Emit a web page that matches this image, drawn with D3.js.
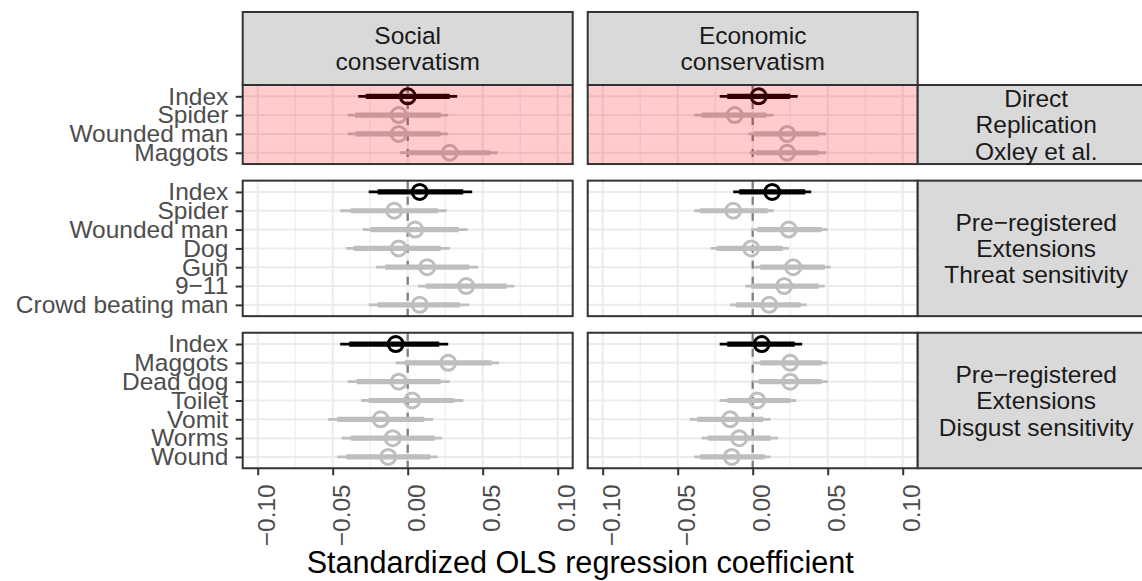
<!DOCTYPE html>
<html>
<head>
<meta charset="utf-8">
<script src="https://cdn.jsdelivr.net/npm/d3@7"></script>
<style>
  body { margin: 0; background: #fff; }
  text { font-family: 'Liberation Sans', Arial, Helvetica, sans-serif; }
</style>
</head>
<body>
<div id="forest-plot"></div>
<script>
const columnLabels = [['Social', 'conservatism'], ['Economic', 'conservatism']]
const rowLabels = [
  ['Direct', 'Replication', 'Oxley et al.'],
  ['Pre−registered', 'Extensions', 'Threat sensitivity'],
  ['Pre−registered', 'Extensions', 'Disgust sensitivity']
]

const replicationItems = ['Index', 'Spider', 'Wounded man', 'Maggots']
const threatItems = ['Index', 'Spider', 'Wounded man', 'Dog', 'Gun', '9−11', 'Crowd beating man']
const disgustItems = ['Index', 'Maggots', 'Dead dog', 'Toilet', 'Vomit', 'Worms', 'Wound']

// [estimate, lo95, hi95, lo90, hi90]
const replicationSocial = [
  [0.000, -0.033, 0.033, -0.028, 0.028],
  [-0.006, -0.040, 0.027, -0.035, 0.022],
  [-0.006, -0.040, 0.027, -0.035, 0.022],
  [0.028, -0.005, 0.060, 0.000, 0.055]
]
const replicationEconomic = [
  [0.004, -0.022, 0.030, -0.017, 0.025],
  [-0.012, -0.039, 0.014, -0.034, 0.009],
  [0.023, -0.003, 0.049, 0.001, 0.044],
  [0.023, -0.002, 0.049, 0.002, 0.044]
]
const threatSocial = [
  [0.008, -0.026, 0.043, -0.020, 0.037],
  [-0.009, -0.045, 0.026, -0.038, 0.020],
  [0.005, -0.030, 0.040, -0.025, 0.034],
  [-0.006, -0.041, 0.028, -0.036, 0.022],
  [0.013, -0.021, 0.047, -0.015, 0.041],
  [0.039, 0.007, 0.071, 0.012, 0.066],
  [0.008, -0.026, 0.041, -0.020, 0.035]
]
const threatEconomic = [
  [0.013, -0.013, 0.039, -0.009, 0.035],
  [-0.013, -0.039, 0.014, -0.035, 0.010],
  [0.024, -0.001, 0.050, 0.003, 0.046],
  [-0.001, -0.028, 0.024, -0.024, 0.020],
  [0.027, 0.001, 0.052, 0.005, 0.048],
  [0.021, -0.005, 0.048, -0.001, 0.044],
  [0.011, -0.015, 0.036, -0.011, 0.032]
]
const disgustSocial = [
  [-0.008, -0.045, 0.027, -0.039, 0.021],
  [0.027, -0.008, 0.061, -0.002, 0.056],
  [-0.006, -0.040, 0.028, -0.034, 0.022],
  [0.003, -0.031, 0.037, -0.026, 0.031],
  [-0.018, -0.053, 0.017, -0.047, 0.011],
  [-0.010, -0.044, 0.023, -0.038, 0.018],
  [-0.013, -0.047, 0.020, -0.041, 0.015]
]
const disgustEconomic = [
  [0.006, -0.022, 0.033, -0.017, 0.028],
  [0.025, 0.000, 0.050, 0.005, 0.046],
  [0.025, 0.000, 0.050, 0.004, 0.046],
  [0.003, -0.022, 0.029, -0.017, 0.025],
  [-0.015, -0.042, 0.012, -0.037, 0.007],
  [-0.009, -0.034, 0.017, -0.030, 0.012],
  [-0.014, -0.039, 0.012, -0.035, 0.008]
]

const xMajor = [-0.1, -0.05, 0, 0.05, 0.1]
const xMinor = [-0.075, -0.025, 0.025, 0.075]
const xDomain = [-0.11, 0.11]
const axisTitle = 'Standardized OLS regression coefficient'

const facets = [
  { items: replicationItems, strip: rowLabels[0], cols: [replicationSocial, replicationEconomic], highlight: true },
  { items: threatItems, strip: rowLabels[1], cols: [threatSocial, threatEconomic], highlight: false },
  { items: disgustItems, strip: rowLabels[2], cols: [disgustSocial, disgustEconomic], highlight: false }
]

const width = 1142
const height = 581
const colX = [242.7, 587.7]
const panelW = 330
const stripTop = 12
const panelTop = 85
const unit = 18.82
const gap = 16.6
const sideStripW = 237

const svg = d3.select('#forest-plot')
  .append('svg')
  .attr('width', width)
  .attr('height', height)

// row positions (discrete scale expands 0.6 on each side)
let rowCursor = panelTop
facets.forEach(f => {
  f.top = rowCursor
  f.h = (f.items.length - 1 + 1.2) * unit
  rowCursor += f.h + gap
})

const xScales = colX.map(x0 => d3.scaleLinear().domain(xDomain).range([x0, x0 + panelW]))

// column strips
columnLabels.forEach((lines, c) => {
  const g = svg.append('g')
  g.append('rect')
    .attr('x', colX[c]).attr('y', stripTop)
    .attr('width', panelW).attr('height', panelTop - stripTop)
    .attr('fill', '#d9d9d9').attr('stroke', '#333').attr('stroke-width', 2)
  g.selectAll('text').data(lines).enter().append('text')
    .attr('x', colX[c] + panelW / 2)
    .attr('y', (d, i) => (stripTop + panelTop) / 2 + (i - 0.5) * 25.5 + 8.7)
    .attr('text-anchor', 'middle')
    .attr('font-size', 24.5)
    .attr('fill', '#1a1a1a')
    .text(d => d)
})

facets.forEach((f, r) => {
  const y = d3.scalePoint().domain(f.items).range([f.top, f.top + f.h]).padding(0.6)

  f.cols.forEach((vals, c) => {
    const x = xScales[c]
    const g = svg.append('g')

    g.append('rect')
      .attr('x', colX[c]).attr('y', f.top)
      .attr('width', panelW).attr('height', f.h)
      .attr('fill', '#fff')

    g.selectAll('.minor').data(xMinor).enter().append('line')
      .attr('x1', d => x(d)).attr('x2', d => x(d))
      .attr('y1', f.top).attr('y2', f.top + f.h)
      .attr('stroke', '#ebebeb').attr('stroke-width', 1)
    g.selectAll('.major').data(xMajor).enter().append('line')
      .attr('x1', d => x(d)).attr('x2', d => x(d))
      .attr('y1', f.top).attr('y2', f.top + f.h)
      .attr('stroke', '#ebebeb').attr('stroke-width', 2)
    g.selectAll('.hgrid').data(f.items).enter().append('line')
      .attr('x1', colX[c]).attr('x2', colX[c] + panelW)
      .attr('y1', d => y(d)).attr('y2', d => y(d))
      .attr('stroke', '#ebebeb').attr('stroke-width', 2)

    g.append('line')
      .attr('x1', x(0)).attr('x2', x(0))
      .attr('y1', f.top).attr('y2', f.top + f.h)
      .attr('stroke', '#7f7f7f').attr('stroke-width', 2.3)
      .attr('stroke-dasharray', '8,8')

    const rows = vals.map((v, i) => ({ item: f.items[i], est: v[0], lo: v[1], hi: v[2], lo90: v[3], hi90: v[4] }))
    const colour = d => d.item === 'Index' ? '#000' : '#bebebe'

    g.selectAll('.ci95').data(rows).enter().append('line')
      .attr('x1', d => x(d.lo)).attr('x2', d => x(d.hi))
      .attr('y1', d => y(d.item)).attr('y2', d => y(d.item))
      .attr('stroke', colour).attr('stroke-width', 2.8)
    g.selectAll('.ci90').data(rows).enter().append('line')
      .attr('x1', d => x(d.lo90)).attr('x2', d => x(d.hi90))
      .attr('y1', d => y(d.item)).attr('y2', d => y(d.item))
      .attr('stroke', colour).attr('stroke-width', 5.2)
    g.selectAll('circle').data(rows).enter().append('circle')
      .attr('cx', d => x(d.est)).attr('cy', d => y(d.item))
      .attr('r', 7.5)
      .attr('fill', 'none')
      .attr('stroke', colour).attr('stroke-width', 3)

    if (f.highlight) {
      g.append('rect')
        .attr('x', colX[c]).attr('y', f.top)
        .attr('width', panelW).attr('height', f.h)
        .attr('fill', 'red').attr('fill-opacity', 0.2)
    }

    g.append('rect')
      .attr('x', colX[c]).attr('y', f.top)
      .attr('width', panelW).attr('height', f.h)
      .attr('fill', 'none').attr('stroke', '#333').attr('stroke-width', 2)
  })

  // y axis on the left column only
  const yAxis = svg.append('g')
    .attr('transform', `translate(${colX[0]},0)`)
    .call(d3.axisLeft(y).tickSize(7).tickPadding(7.4))
  yAxis.select('.domain').remove()
  yAxis.selectAll('line').attr('stroke', '#333').attr('stroke-width', 2)
  yAxis.selectAll('text')
    .attr('font-size', 24.5)
    .attr('font-family', null)
    .attr('fill', '#4d4d4d')

  // row strip on the right
  const s = svg.append('g')
  s.append('rect')
    .attr('x', colX[1] + panelW).attr('y', f.top)
    .attr('width', sideStripW).attr('height', f.h)
    .attr('fill', '#d9d9d9').attr('stroke', '#333').attr('stroke-width', 2)
  s.selectAll('text').data(f.strip).enter().append('text')
    .attr('x', colX[1] + panelW + 118.5)
    .attr('y', (d, i) => f.top + f.h / 2 + (i - 1) * 26.3 + 8.7)
    .attr('text-anchor', 'middle')
    .attr('font-size', 24.5)
    .attr('fill', '#1a1a1a')
    .text(d => d)
})

// x axes under the bottom row
const last = facets[facets.length - 1]
xScales.forEach(x => {
  const ax = svg.append('g')
    .attr('transform', `translate(0,${last.top + last.h})`)
    .call(d3.axisBottom(x).tickValues(xMajor).tickSize(7).tickFormat(d3.format('.2f')))
  ax.select('.domain').remove()
  ax.selectAll('line').attr('stroke', '#333').attr('stroke-width', 2)
  ax.selectAll('text')
    .attr('font-size', 24.5)
    .attr('font-family', null)
    .attr('fill', '#4d4d4d')
    .attr('text-anchor', 'end')
    .attr('x', 0).attr('y', 0).attr('dy', null)
    .attr('transform', 'translate(16.5,16) rotate(-90)')
})

svg.append('text')
  .attr('x', colX[0] + (colX[1] + panelW - colX[0]) / 2)
  .attr('y', 573)
  .attr('text-anchor', 'middle')
  .attr('font-size', 30.6)
  .attr('fill', '#000')
  .text(axisTitle)
</script>
</body>
</html>
